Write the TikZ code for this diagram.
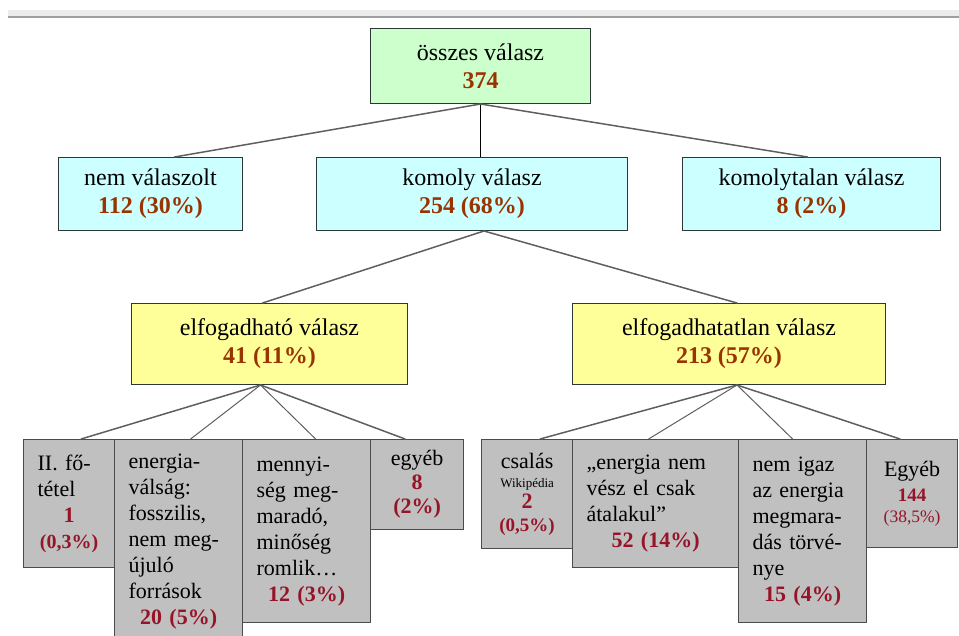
\documentclass[tikz,border=0pt]{standalone}
\usepackage{fontspec}
\setmainfont{Liberation Serif}
\usepackage{tikz}
\definecolor{boxgreen}{RGB}{204,255,204}
\definecolor{boxcyan}{RGB}{204,255,255}
\definecolor{boxyellow}{RGB}{255,255,153}
\definecolor{boxline}{RGB}{45,55,55}
\definecolor{cellgray}{RGB}{192,192,192}
\definecolor{cellline}{RGB}{75,75,75}
\definecolor{linkgray}{RGB}{95,95,95}
\definecolor{numbrown}{RGB}{153,51,0}
\definecolor{numred}{RGB}{150,20,40}
\newcommand{\bnum}[1]{{\bfseries\color{numbrown}#1}}
\newcommand{\cellnum}[1]{\makebox[\linewidth]{\bfseries\color{numred}#1}}
\tikzset{
    box/.style={draw=boxline, line width=1pt, anchor=north west, align=center, inner sep=0pt,
        font=\fontsize{24}{28}\selectfont},
    cell/.style={draw=cellline, fill=cellgray, line width=1.2pt, anchor=north west, align=left,
        inner xsep=14pt, inner ysep=0pt, font=\fontsize{22}{26}\selectfont},
    link/.style={draw=linkgray, line width=1.5pt, line cap=round}
}

\begin{document}
\begin{tikzpicture}[x=1pt, y=-1pt]
    \useasboundingbox (0,0) rectangle (959,635);
    \clip (0,0) rectangle (959,635);
    % bar along the top
    \fill [gray!15] (8,10) rectangle (959,16);
    \draw [gray!75, line width=2pt] (8,17) -- (959,17);

    % upper levels
    \node [box, fill=boxgreen, minimum width=220pt, minimum height=75pt] (all) at (370,28)
        {összes válasz\\\bnum{374}};
    \node [box, fill=boxcyan, minimum width=184pt, minimum height=73pt] (none) at (58,157)
        {nem válaszolt\\\bnum{112 (30\%)}};
    \node [box, fill=boxcyan, minimum width=311pt, minimum height=73pt] (serious) at (316,157)
        {komoly válasz\\\bnum{254 (68\%)}};
    \node [box, fill=boxcyan, minimum width=258pt, minimum height=73pt] (silly) at (682,157)
        {komolytalan válasz\\\bnum{8 (2\%)}};
    \node [box, fill=boxyellow, minimum width=276pt, minimum height=81pt] (good) at (131,303)
        {elfogadható válasz\\\bnum{41 (11\%)}};
    \node [box, fill=boxyellow, minimum width=313pt, minimum height=81pt] (bad) at (572,303)
        {elfogadhatatlan válasz\\\bnum{213 (57\%)}};

    % accepted answers
    \node [cell, text width=63pt, minimum height=128pt] (g1) at (23,439)
        {II. fő-\\tétel\\\cellnum{1}\\\cellnum{\fontsize{20}{24}\selectfont(0,3\%)}};
    \node [cell, text width=100pt, minimum height=203pt] (g2) at (114,439)
        {energia-\\válság:\\fosszilis,\\nem meg-\\újuló\\források\\\cellnum{20 (5\%)}};
    \node [cell, text width=100pt, minimum height=183pt] (g3) at (242,439)
        {mennyi-\\ség meg-\\maradó,\\minőség\\romlik…\\\cellnum{12 (3\%)}};
    \node [cell, align=center, text width=65pt, minimum height=90pt] (g4) at (370,439)
        {egyéb\\[-2pt]\cellnum{8}\\[-2pt]\cellnum{(2\%)}};

    % rejected answers
    \node [cell, align=center, text width=63pt, minimum height=109pt] (b1) at (481,439)
        {csalás\\[-7pt]{\fontsize{13}{15}\selectfont Wikipédia}\\[-5pt]\cellnum{2}\\[-3pt]%
        \cellnum{\fontsize{19}{22}\selectfont(0,5\%)}};
    \node [cell, text width=138pt, minimum height=128pt] (b2) at (572,439)
        {„energia nem\\vész el csak\\átalakul”\\\cellnum{52 (14\%)}};
    \node [cell, text width=100pt, minimum height=183pt] (b3) at (738,439)
        {nem igaz\\az energia\\megmara-\\dás törvé-\\nye\\\cellnum{15 (4\%)}};
    \node [cell, align=center, text width=63pt, minimum height=108pt] (b4) at (866,439)
        {Egyéb\\[-1pt]\cellnum{\fontsize{19}{22}\selectfont 144}\\[-5pt]%
        {\fontsize{17.5}{21}\selectfont\color{numred}(38,5\%)}};

    % connectors
    \draw [link] (all.south) -- ([xshift=24pt]none.north);
    \draw [black, line width=0.8pt] (all.south) -- (all.south |- serious.north);
    \draw [link] (all.south) -- ([xshift=-4pt]silly.north);
    \draw [link] ([xshift=12pt]serious.south) -- ([xshift=-7pt]good.north);
    \draw [link] ([xshift=12pt]serious.south) -- ([xshift=8pt]bad.north);
    \draw [link] ([xshift=-9pt]good.south) -- ([xshift=12pt]g1.north);
    \draw [link, line width=1pt] ([xshift=-9pt]good.south) -- ([xshift=12pt]g2.north);
    \draw [link, line width=1pt] ([xshift=-9pt]good.south) -- ([xshift=9pt]g3.north);
    \draw [link] ([xshift=-9pt]good.south) -- ([xshift=-12pt]g4.north);
    \draw [link] ([xshift=8pt]bad.south) -- ([xshift=13pt]b1.north);
    \draw [link, line width=1pt] ([xshift=8pt]bad.south) -- ([xshift=-7pt]b2.north);
    \draw [link, line width=1pt] ([xshift=8pt]bad.south) -- ([xshift=-10pt]b3.north);
    \draw [link] ([xshift=8pt]bad.south) -- ([xshift=-12pt]b4.north);
\end{tikzpicture}
\end{document}
